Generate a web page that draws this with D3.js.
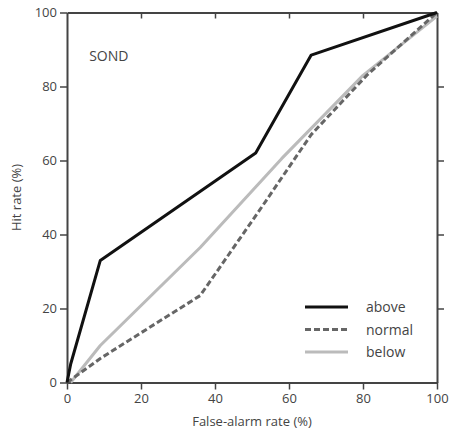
<!DOCTYPE html>
<html>
<head>
<meta charset="utf-8">
<script src="https://cdn.jsdelivr.net/npm/d3@7"></script>
<style>
  body { margin: 0; background: #fff; }
  text { font-family: "Open Sans", "DejaVu Sans", sans-serif; fill: #444; }
</style>
</head>
<body>
<div id="chart"></div>
<script>
// ROC curves, SOND season (false-alarm rate vs hit rate, %)
const aboveFar = [0, 1, 9, 51, 66, 100];
const aboveHit = [0, 5, 33, 62, 88.5, 100];
const normalFar = [0, 9, 36, 52, 66, 81, 100];
const normalHit = [0, 6.5, 23.5, 46.5, 67, 83, 100];
const belowFar = [1, 9, 36, 58, 80, 100];
const belowHit = [0, 10, 36.5, 60.5, 83, 99];
const tickValues = [0, 20, 40, 60, 80, 100];
const seriesNames = ["above", "normal", "below"];

function main(){
    let width = 450;
    let height = 432;
    let margin = {left: 67, top: 12.5, right: 13, bottom: 49.5};

    let svg = d3.select("#chart").append("svg")
        .attr("width", width)
        .attr("height", height);

    let x = d3.scaleLinear().domain([0, 100]).range([margin.left, width - margin.right]);
    let y = d3.scaleLinear().domain([0, 100]).range([height - margin.bottom, margin.top]);

    let axisColor = "#444";

    function styleAxis(g){
        g.select(".domain").attr("stroke", axisColor).attr("stroke-width", 2);
        g.selectAll(".tick line").attr("stroke", axisColor).attr("stroke-width", 1.5);
        g.selectAll(".tick text").attr("font-size", 13).style("fill", "#444")
            .attr("font-family", "\"Open Sans\", \"DejaVu Sans\", sans-serif");
    }

    svg.append("g")
        .attr("transform", "translate(0," + y(0) + ")")
        .call(d3.axisBottom(x).tickValues(tickValues).tickSize(7).tickSizeOuter(0).tickPadding(4))
        .call(styleAxis);

    svg.append("g")
        .attr("transform", "translate(" + x(0) + ",0)")
        .call(d3.axisLeft(y).tickValues(tickValues).tickSize(7).tickSizeOuter(0).tickPadding(3))
        .call(styleAxis);

    svg.append("g")
        .attr("transform", "translate(0," + y(100) + ")")
        .call(d3.axisBottom(x).tickValues(tickValues.slice(1, 5)).tickSize(6).tickSizeOuter(0).tickFormat(""))
        .call(styleAxis);

    svg.append("g")
        .attr("transform", "translate(" + x(100) + ",0)")
        .call(d3.axisRight(y).tickValues(tickValues.slice(1, 5)).tickSize(7).tickSizeOuter(0).tickFormat(""))
        .call(styleAxis);

    const series = [
        {name: seriesNames[0], far: aboveFar, hit: aboveHit, color: "#111", width: 3, dash: null},
        {name: seriesNames[1], far: normalFar, hit: normalHit, color: "#666", width: 3, dash: "6,3"},
        {name: seriesNames[2], far: belowFar, hit: belowHit, color: "#bbb", width: 3, dash: null}
    ];

    let line = d3.line()
        .x(function(d){ return x(d[0]); })
        .y(function(d){ return y(d[1]); });

    // draw below first so dark lines sit on top
    series.slice().reverse().forEach(function(s){
        svg.append("path")
            .datum(s.far.map(function(v, i){ return [v, s.hit[i]]; }))
            .attr("d", line)
            .attr("fill", "none")
            .attr("stroke", s.color)
            .attr("stroke-width", s.width)
            .attr("stroke-dasharray", s.dash)
            .attr("stroke-linejoin", "round");
    });

    svg.append("text")
        .attr("x", x(6))
        .attr("y", y(87))
        .attr("font-size", 14)
        .text("SOND");

    svg.append("text")
        .attr("x", (x(0) + x(100)) / 2)
        .attr("y", 426)
        .attr("text-anchor", "middle")
        .attr("font-size", 13)
        .text("False-alarm rate (%)");

    svg.append("text")
        .attr("transform", "translate(21," + y(50) + ") rotate(-90)")
        .attr("text-anchor", "middle")
        .attr("font-size", 13)
        .text("Hit rate (%)");

    let legend = svg.append("g").attr("transform", "translate(305,307)");
    series.forEach(function(s, i){
        let row = legend.append("g").attr("transform", "translate(0," + (i * 22.5) + ")");
        row.append("line")
            .attr("x1", 0).attr("x2", 43)
            .attr("stroke", s.color)
            .attr("stroke-width", s.width)
            .attr("stroke-dasharray", s.dash);
        row.append("text")
            .attr("x", 61)
            .attr("y", 5)
            .attr("font-size", 14)
            .text(s.name);
    });
}

main();
</script>
</body>
</html>
